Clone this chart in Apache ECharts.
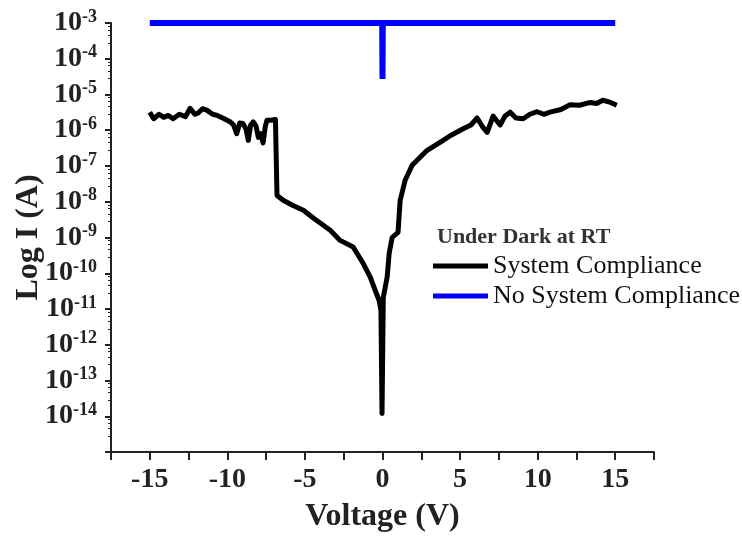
<!DOCTYPE html>
<html>
<head>
<meta charset="utf-8">
<script src="https://cdn.jsdelivr.net/npm/echarts@6/dist/echarts.min.js"></script>
<style>
  html, body { margin: 0; padding: 0; background: #fff; }
  #chart { width: 742px; height: 540px; }
</style>
</head>
<body>
<div id="chart"></div>
<script>
  // System Compliance (black) - voltage and current
  var darkV = [-15.0, -14.75, -14.4, -14.1, -13.8, -13.5, -13.1, -12.7, -12.4, -12.1,
    -11.9, -11.6, -11.3, -10.95, -10.65, -10.2, -9.8, -9.6, -9.4, -9.2,
    -9.0, -8.8, -8.65, -8.5, -8.33, -8.15, -8.0, -7.85, -7.7, -7.55,
    -7.45, -7.2, -6.9, -6.8, -6.8, -6.4, -5.8, -5.1, -4.46, -3.37,
    -2.73, -1.89, -1.25, -0.79, -0.47, -0.21, -0.1, -0.03, 0.0, 0.05,
    0.3, 0.43, 0.62, 1.0, 1.14, 1.46, 1.91, 2.88, 3.91, 4.36,
    5.2, 5.7, 6.1, 6.45, 6.75, 7.13, 7.58, 7.9, 8.23, 8.6,
    9.07, 9.5, 9.97, 10.4, 10.8, 11.5, 12.1, 12.7, 13.4, 13.8,
    14.2, 14.7, 15.1];
  var darkI = [3.2e-6, 2.1e-6, 2.8e-6, 2.3e-6, 2.6e-6, 2.1e-6, 2.8e-6, 2.4e-6, 4.1e-6, 2.8e-6,
    3.0e-6, 4.0e-6, 3.6e-6, 2.8e-6, 2.6e-6, 2.1e-6, 1.7e-6, 1.4e-6, 8e-7, 1.6e-6,
    1.55e-6, 1.1e-6, 5.2e-7, 1.4e-6, 1.7e-6, 1.3e-6, 6.3e-7, 8e-7, 4.4e-7, 1.3e-6,
    1.9e-6, 1.9e-6, 2.0e-6, 2.0e-6, 1.5e-8, 1.1e-8, 8e-9, 5.8e-9, 3.5e-9, 1.6e-9,
    8.3e-10, 5.4e-10, 1.9e-10, 7.8e-11, 3.3e-11, 1.7e-11, 9e-12, 1.2e-14, 1.2e-14, 2.1e-11,
    7.8e-11, 3.6e-10, 1.0e-9, 1.4e-9, 1.1e-8, 4e-8, 1.05e-7, 2.75e-7, 5.2e-7, 7e-7,
    1.1e-6, 1.4e-6, 2.2e-6, 1.25e-6, 8.7e-7, 2.5e-6, 1.4e-6, 2.5e-6, 3.2e-6, 2.2e-6,
    2.1e-6, 2.8e-6, 3.3e-6, 2.8e-6, 3.2e-6, 3.8e-6, 5.2e-6, 5e-6, 6e-6, 5.6e-6,
    6.9e-6, 6e-6, 5e-6];

  // No System Compliance (blue)
  var noCompV = [-15.0, -0.02, 0.0, 0.02, 15.0];
  var noCompI = [1e-3, 1e-3, 2.7e-5, 1e-3, 1e-3];

  var seriesNames = ['System Compliance', 'No System Compliance'];
  var xTickValues = [-15, -10, -5, 0, 5, 10, 15];

  function zip(xs, ys) {
    return xs.map(function (x, i) { return [x, ys[i]]; });
  }

  var font = 'Liberation Serif';
  var chart = echarts.init(document.getElementById('chart'));
  var option = {
    animation: false,
    backgroundColor: '#fff',
    title: {
      text: 'Under Dark at RT',
      left: 437,
      top: 226,
      padding: 0,
      textStyle: { fontFamily: font, fontSize: 22, fontWeight: 'bold', color: '#333' }
    },
    legend: {
      data: seriesNames,
      orient: 'vertical',
      left: 433,
      top: 253,
      padding: 0,
      icon: 'rect',
      itemWidth: 55,
      itemHeight: 5,
      itemGap: 4,
      textStyle: { fontFamily: font, fontSize: 26, color: '#111' }
    },
    grid: {
      left: 111,
      right: 88,
      top: 23,
      bottom: 88,
      outerBoundsMode: 'none'
    },
    xAxis: {
      type: 'value',
      min: -17.5,
      max: 17.5,
      interval: 2.5,
      name: 'Voltage (V)',
      nameLocation: 'middle',
      nameGap: 49,
      nameMoveOverlap: false,
      nameTextStyle: { fontFamily: font, fontSize: 32, fontWeight: 'bold', color: '#222' },
      splitLine: { show: false },
      axisLine: { onZero: false, lineStyle: { color: '#222', width: 2 } },
      axisTick: { length: 8, lineStyle: { color: '#222', width: 2 } },
      axisLabel: {
        margin: 14,
        fontFamily: font, fontSize: 28, fontWeight: 'bold', color: '#222',
        formatter: function (v) {
          return xTickValues.indexOf(v) >= 0 ? String(v) : '';
        }
      }
    },
    yAxis: {
      type: 'log',
      logBase: 10,
      min: 1e-15,
      max: 1e-3,
      interval: 1,
      name: 'Log I (A)',
      nameLocation: 'middle',
      nameGap: 66,
      nameMoveOverlap: false,
      nameTextStyle: { fontFamily: font, fontSize: 32, fontWeight: 'bold', color: '#222' },
      splitLine: { show: false },
      axisLine: { onZero: false, lineStyle: { color: '#222', width: 2 } },
      axisTick: { length: 6, lineStyle: { color: '#222', width: 2 } },
      minorTick: { show: true, splitNumber: 5, length: 3, lineStyle: { color: '#222', width: 1 } },
      axisLabel: {
        margin: 14,
        formatter: function (v) {
          var e = Math.round(Math.log10(v));
          if (e <= -15) return '';
          return '{b|10}{s|' + e + '}';
        },
        rich: {
          b: { fontFamily: font, fontSize: 28, fontWeight: 'bold', color: '#222' },
          s: { fontFamily: font, fontSize: 18, fontWeight: 'bold', color: '#222', padding: [0, 0, 12, 0] }
        }
      }
    },
    series: [{
      name: seriesNames[0],
      type: 'line',
      symbol: 'none',
      data: zip(darkV, darkI),
      itemStyle: { color: '#000' },
      lineStyle: { color: '#000', width: 5, join: 'round' }
    }, {
      name: seriesNames[1],
      type: 'line',
      symbol: 'none',
      data: zip(noCompV, noCompI),
      itemStyle: { color: '#0000ff' },
      lineStyle: { color: '#0000ff', width: 6, join: 'bevel' }
    }]
  };
  chart.setOption(option);
</script>
</body>
</html>
